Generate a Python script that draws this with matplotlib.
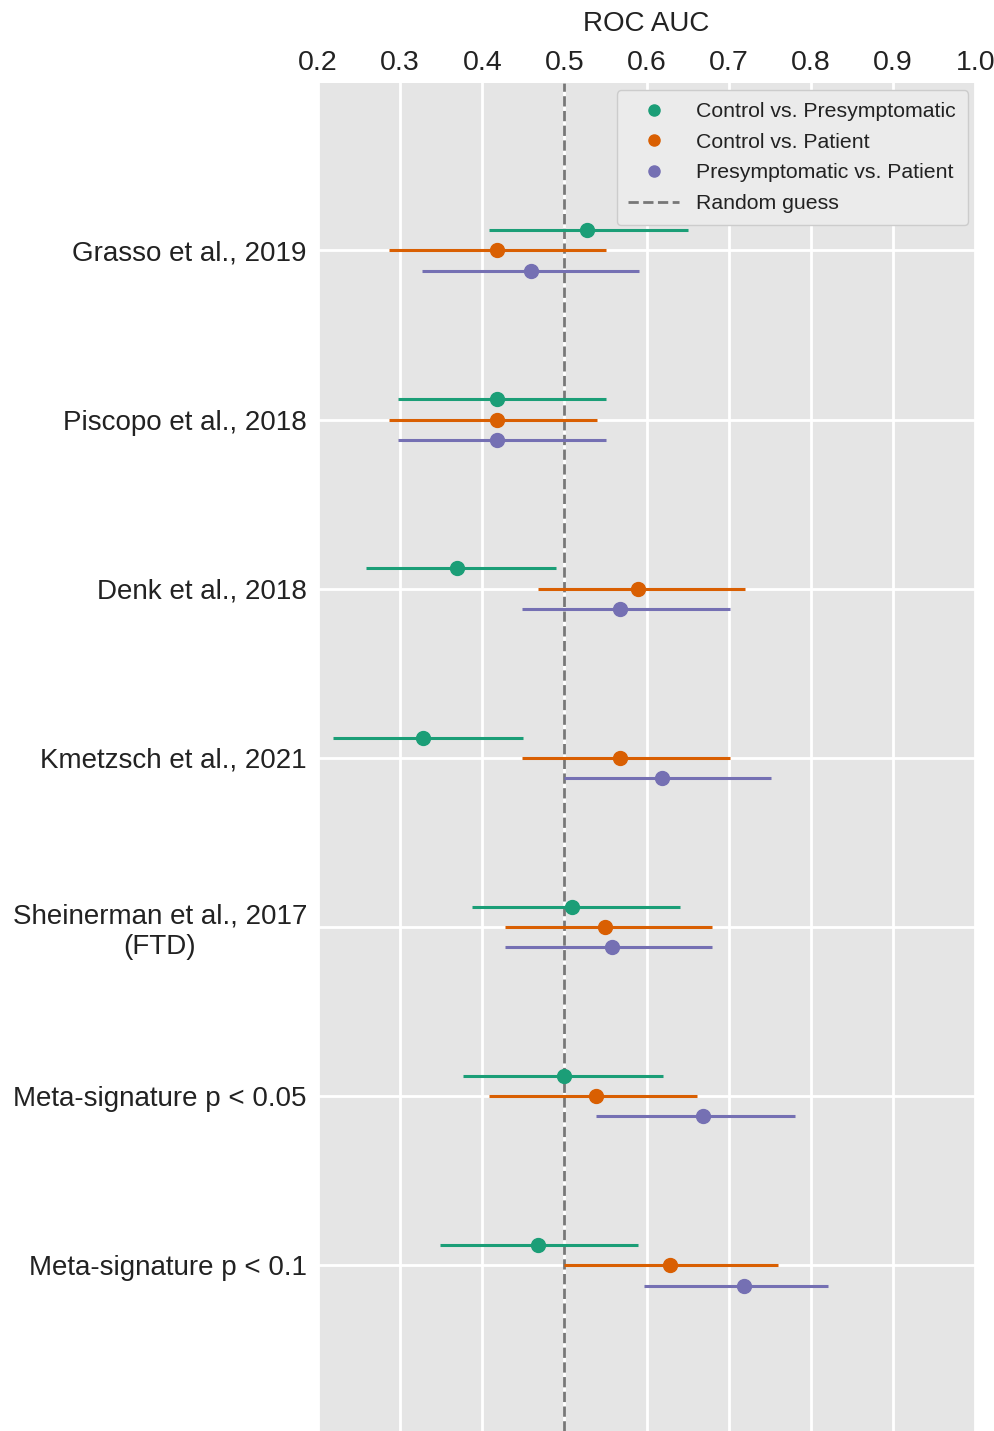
import numpy as np
import matplotlib
matplotlib.use("Agg")
import matplotlib.pyplot as plt
from matplotlib.lines import Line2D

# data
studies = ["Grasso et al., 2019", "Piscopo et al., 2018", "Denk et al., 2018",
           "Kmetzsch et al., 2021", "Sheinerman et al., 2017\n(FTD)",
           "Meta-signature p < 0.05", "Meta-signature p < 0.1"]

comparisons = ["Control vs. Presymptomatic", "Control vs. Patient", "Presymptomatic vs. Patient"]

ctrl_pre_auc = [0.528, 0.418, 0.369, 0.328, 0.509, 0.499, 0.468]
ctrl_pre_lo = [0.408, 0.297, 0.258, 0.218, 0.388, 0.377, 0.348]
ctrl_pre_hi = [0.650, 0.550, 0.490, 0.450, 0.641, 0.620, 0.590]

ctrl_pat_auc = [0.418, 0.418, 0.589, 0.568, 0.549, 0.539, 0.629]
ctrl_pat_lo = [0.287, 0.287, 0.468, 0.448, 0.428, 0.408, 0.500]
ctrl_pat_hi = [0.550, 0.540, 0.720, 0.701, 0.680, 0.661, 0.760]

pre_pat_auc = [0.459, 0.418, 0.568, 0.619, 0.558, 0.669, 0.719]
pre_pat_lo = [0.327, 0.297, 0.448, 0.500, 0.428, 0.539, 0.597]
pre_pat_hi = [0.591, 0.550, 0.701, 0.751, 0.680, 0.781, 0.821]

colors = ["#1b9e77", "#d95f02", "#7570b3"]

plt.rcParams["font.family"] = ["Liberation Sans", "DejaVu Sans"]

fig = plt.figure(figsize=(9.95, 14.31), dpi=100)
ax = fig.add_axes([0.3196, 0.0, 0.6605, 0.942])
ax.set_facecolor("#e5e5e5")

series = [
    (ctrl_pre_auc, ctrl_pre_lo, ctrl_pre_hi),
    (ctrl_pat_auc, ctrl_pat_lo, ctrl_pat_hi),
    (pre_pat_auc, pre_pat_lo, pre_pat_hi),
]
y = np.arange(len(studies))
offsets = [-0.12, 0.0, 0.12]

for (auc, lo, hi), off, col, name in zip(series, offsets, colors, comparisons):
    auc = np.array(auc)
    err = [auc - np.array(lo), np.array(hi) - auc]
    ax.errorbar(auc, y + off, xerr=err, fmt="o", color=col, ecolor=col,
                markersize=10, elinewidth=2.2, capsize=0, label=name, zorder=3)

ax.axvline(0.5, color="#777777", linestyle="--", linewidth=2, zorder=2)

ax.set_xlim(0.2, 1.0)
ax.set_xticks(np.arange(0.2, 1.01, 0.1))
ax.set_xticklabels([f"{v:.1f}" for v in np.arange(0.2, 1.01, 0.1)])
ax.xaxis.tick_top()
ax.xaxis.set_label_position("top")
ax.set_xlabel("ROC AUC", fontsize=20, color="#222222", labelpad=14)

ax.set_yticks(y)
ax.set_yticklabels(studies, multialignment="center")
ax.set_ylim(6.98, -0.99)

ax.tick_params(axis="both", length=0, labelsize=20, colors="#222222")
ax.tick_params(axis="x", pad=5, labelsize=20.5)
ax.tick_params(axis="y", pad=8)
ax.grid(True, color="white", linewidth=2)
ax.set_axisbelow(True)
for s in ax.spines.values():
    s.set_visible(False)

handles = [Line2D([], [], marker="o", linestyle="none", color=c, markersize=8) for c in colors]
handles.append(Line2D([], [], color="#777777", linestyle="--", linewidth=2))
labels = comparisons + ["Random guess"]
leg = ax.legend(handles, labels, loc="upper right", fontsize=15.3, frameon=True,
                facecolor="#ebebeb", edgecolor="#cccccc", framealpha=1,
                borderaxespad=0.35, borderpad=0.55, handlelength=2.4, labelspacing=0.55)
for t in leg.get_texts():
    t.set_color("#222222")

fig.savefig("out.png", dpi=100)
